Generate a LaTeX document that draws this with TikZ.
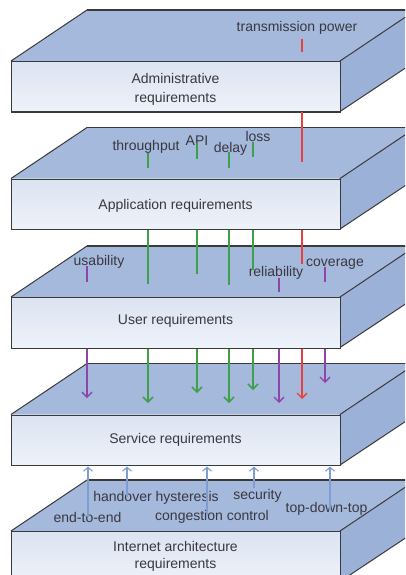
\documentclass[tikz,border=0pt]{standalone}
\usepackage{fontspec}
\setmainfont{Liberation Sans}
\usetikzlibrary{arrows.meta}
\definecolor{topc}{HTML}{A5B9DC}
\definecolor{sidec}{HTML}{9CB1D8}
\definecolor{frontT}{HTML}{DCE3F1}
\definecolor{frontB}{HTML}{EEF2F9}
\definecolor{edgec}{HTML}{3A3A3A}
\definecolor{txtc}{HTML}{383840}
\definecolor{grnc}{HTML}{3FA04A}
\definecolor{redc}{HTML}{E8403E}
\definecolor{purc}{HTML}{8E44A8}
\definecolor{bluc}{HTML}{7E9ED2}
\newcommand\myseg[5]{%
  \coordinate (#2a) at (#3,#4);
  \coordinate (#2b) at (#3,#5);
  \draw[#1] (#2a) -- (#2b);}
\begin{document}
\begin{tikzpicture}[x=1pt,y=-1pt,
  topface/.style={fill=topc,draw=edgec,line width=1pt,line join=round},
  sideface/.style={fill=sidec,draw=edgec,line width=1pt,line join=round},
  backedge/.style={draw=edgec,line width=1.6pt},
  frontface/.style={draw=edgec,line width=1.2pt,top color=frontT,bottom color=frontB,
     minimum width=329pt,minimum height=50.5pt,anchor=north west,inner sep=0pt},
  slabtxt/.style={font=\fontsize{14}{16}\selectfont,text=txtc,anchor=base,inner sep=0pt},
  lab/.style={font=\fontsize{14}{16}\selectfont,text=txtc,anchor=base,inner sep=0pt},
  tip/.style={-{Straight Barb[length=5pt,width=10pt]}},
  grn/.style={draw=grnc,line width=1.5pt},
  grnA/.style={grn,tip},
  rd/.style={draw=redc,line width=1.3pt},
  rdA/.style={rd,tip},
  pur/.style={draw=purc,line width=1.3pt},
  purA/.style={pur,tip},
  bluA/.style={draw=bluc,line width=1.1pt,-{Straight Barb[length=4pt,width=9pt]}},
  pics/slab/.style args={#1}{code={
    \fill[topc] (11,0) -- (340,0) -- (416,-51) -- (87,-51) -- cycle;
    \draw[topface,fill=none] (11,0) -- (87,-51);
    \draw[backedge] (87,-51) -- (416,-51);
    \draw[sideface] (340,0) -- (416,-51) -- (416,0) -- (340,50.5) -- cycle;
    \node[frontface] (#1) at (11,0) {};
  }}
]
\useasboundingbox (0,0) rectangle (405,575);
\clip (0,0) rectangle (405,575);
\fill[white] (0,0) rectangle (405,575);

\pic at (0,61) {slab={adm}};
\pic at (0,178.5) {slab={app}};
\pic at (0,297) {slab={usr}};
\pic at (0,414.5) {slab={srv}};
\pic at (0,531) {slab={inet}};

% slab texts
\node[slabtxt] (tadm1) at (175.5,84) {Administrative};
\node[slabtxt] (tadm2) at (175.5,102.5) {requirements};
\node[slabtxt] (tapp) at (175.5,209) {Application requirements};
\node[slabtxt] (tusr) at (175.5,324.5) {User requirements};
\node[slabtxt] (tsrv) at (175.5,443) {Service requirements};
\node[slabtxt] (tinet1) at (175.5,551.5) {Internet architecture};
\node[slabtxt] (tinet2) at (175.5,568.5) {requirements};

% labels
\node[lab] (ltp) at (297,32) {transmission power};
\node[lab] (lthr) at (146,150.5) {throughput};
\node[lab] (lapi) at (197,145) {API};
\node[lab] (ldel) at (230.5,152) {delay};
\node[lab] (llos) at (258,142) {loss};
\node[lab] (lusa) at (99,265) {usability};
\node[lab] (lrel) at (276,276.5) {reliability};
\node[lab] (lcov) at (335,266.5) {coverage};
\node[lab] (le2e) at (87.5,522) {end-to-end};
\node[lab] (lhan) at (156,501) {handover hysteresis};
\node[lab] (lcon) at (212,520.5) {congestion control};
\node[lab] (lsec) at (257.5,499) {security};
\node[lab] (ltdt) at (326.5,512) {top-down-top};

% red: transmission power
\myseg{rd}{ra}{302}{39}{52}
\myseg{rd}{rb}{302}{112}{162}
\myseg{rd}{rc}{302}{229.5}{264}
\myseg{rdA}{rd}{302}{348.5}{399}
% green: throughput
\myseg{grn}{ga}{148}{153}{168}
\myseg{grn}{gb}{148}{229.5}{284}
\myseg{grnA}{gc}{148}{348.5}{403}
% green: API
\myseg{grn}{ha}{197}{143}{159}
\myseg{grn}{hb}{197}{229.5}{274}
\myseg{grnA}{hc}{197}{348.5}{393}
% green: delay
\myseg{grn}{da}{229}{152}{168}
\myseg{grn}{db}{229}{229.5}{285}
\myseg{grnA}{dc}{229}{348.5}{403}
% green: loss
\myseg{grn}{la}{253}{142}{157}
\myseg{grn}{lb}{253}{229.5}{270}
\myseg{grnA}{lc}{253}{348.5}{390}
% purple: usability
\myseg{pur}{ua}{87}{266}{282}
\myseg{purA}{ub}{87}{348.5}{398}
% purple: reliability
\myseg{pur}{va}{279}{278}{292}
\myseg{purA}{vb}{279}{348.5}{403}
% purple: coverage
\myseg{pur}{ca}{325}{267}{282}
\myseg{purA}{cb}{325}{348.5}{383}
% blue up arrows
\myseg{bluA}{ba}{88}{517}{466.5}
\myseg{bluA}{bb}{127}{497}{466.5}
\myseg{bluA}{bc}{207}{515}{466.5}
\myseg{bluA}{bd}{254}{488}{466.5}
\myseg{bluA}{be}{330}{510}{466.5}
\end{tikzpicture}
\end{document}
